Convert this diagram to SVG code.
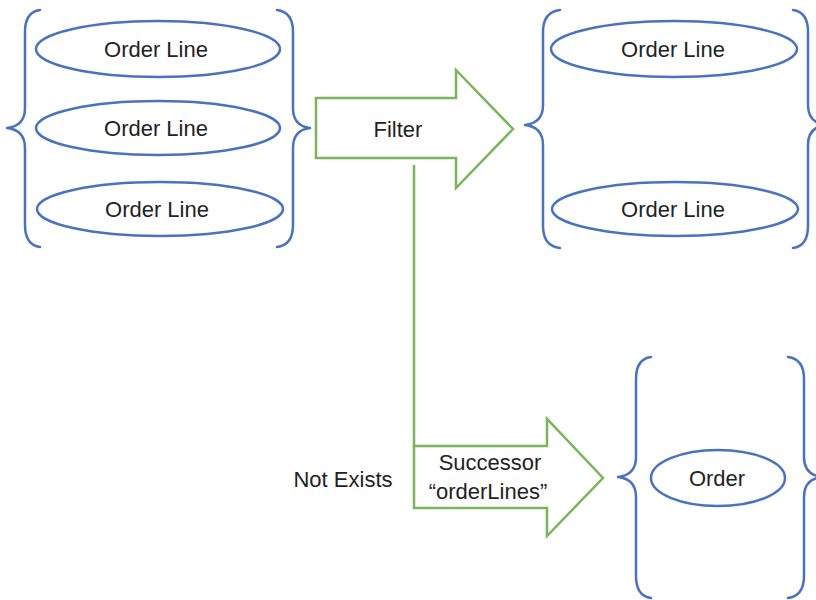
<svg xmlns="http://www.w3.org/2000/svg" width="816" height="600" viewBox="0 0 816 600">
<style>
.b{fill:none;stroke:#4a72bf;stroke-width:2.5;stroke-linejoin:round;stroke-linecap:round}
.e{fill:#fff;stroke:#4a72bf;stroke-width:2.5}
.a{fill:#fff;stroke:#7ab55c;stroke-width:2.5;stroke-linejoin:miter}
.c{fill:none;stroke:#7ab55c;stroke-width:2.5}
text{font-family:"Liberation Sans",Arial,sans-serif;font-size:22px;fill:#222;text-anchor:middle}
</style>
<rect width="816" height="600" fill="#fff"/>
<g id="group-left">
<path class="b" d="M40,10 Q25,12 25,32 L25,108 Q25,126 7,128 Q25,130 25,148 L25,225 Q25,245 40,247"/>
<path class="b" d="M277,10 Q293,12 293,32 L293,108 Q293,126 310,128 Q293,130 293,148 L293,225 Q293,245 277,247"/>
<g id="ol1"><ellipse class="e" cx="158" cy="49" rx="122" ry="28"/><text x="156" y="57">Order Line</text></g>
<g id="ol2"><ellipse class="e" cx="158" cy="128" rx="122" ry="27"/><text x="156" y="136">Order Line</text></g>
<g id="ol3"><ellipse class="e" cx="160" cy="209" rx="123" ry="27"/><text x="157" y="217">Order Line</text></g>
</g>
<g id="group-right">
<path class="b" d="M560,10 Q543,12 543,32 L543,105 Q543,123 525,125 Q543,127 543,145 L543,226 Q543,246 560,248"/>
<path class="b" d="M793,10 Q808,12 808,32 L808,105 Q808,123 826,125 Q808,127 808,145 L808,226 Q808,246 793,248"/>
<g id="ol4"><ellipse class="e" cx="674" cy="49" rx="123" ry="28"/><text x="673" y="57">Order Line</text></g>
<g id="ol5"><ellipse class="e" cx="675" cy="209" rx="123" ry="27"/><text x="673" y="217">Order Line</text></g>
</g>
<g id="group-order">
<path class="b" d="M651,357 Q636,359 636,379 L636,457 Q636,475 618,477 Q636,479 636,497 L636,576 Q636,596 651,598"/>
<path class="b" d="M788,357 Q804,359 804,379 L804,457 Q804,475 822,477 Q804,479 804,497 L804,576 Q804,596 788,598"/>
<g id="order"><ellipse class="e" cx="718" cy="478" rx="67" ry="28"/><text x="717" y="486">Order</text></g>
</g>
<g id="connectors">
<line class="c" x1="414" y1="165" x2="414" y2="447"/>
<g id="filter"><polygon class="a" points="316,98 456,98 456,70 513,129 456,188 456,158 316,158"/><text x="398" y="137">Filter</text></g>
<g id="successor"><polygon class="a" points="414,446 547,446 547,419 603,478 547,536 547,508 414,508"/><text x="490" y="470">Successor</text><text x="488" y="499">“orderLines”</text></g>
<text x="343" y="487">Not Exists</text>
</g>
</svg>
